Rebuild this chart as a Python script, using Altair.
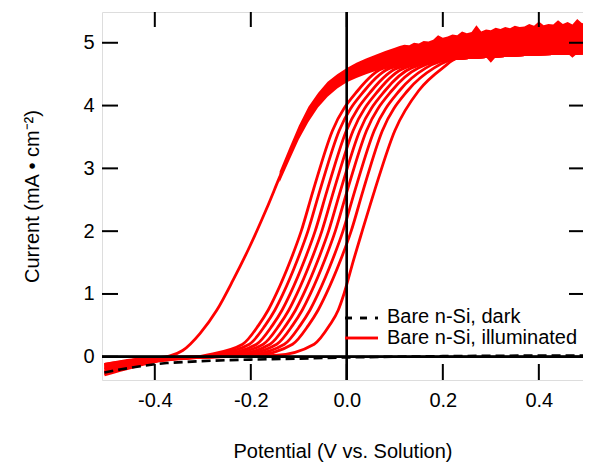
import altair as alt
import pandas as pd

# ---------------- data ----------------
x_ticks = [-0.4, -0.2, 0.0, 0.2, 0.4]
y_ticks = [0, 1, 2, 3, 4, 5]

legend_labels = ["Bare n-Si, dark", "Bare n-Si, illuminated"]

# dark curve (dashed black)
dark_v = [-0.505, -0.47, -0.43, -0.40, -0.375, -0.34, -0.306, -0.25, -0.20,
          -0.167, -0.10, -0.05, 0.0, 0.10, 0.20, 0.30, 0.40, 0.505]
dark_i = [-0.25, -0.20, -0.15, -0.12, -0.10, -0.085, -0.07, -0.055, -0.045,
          -0.04, -0.03, -0.02, -0.01, 0.0, 0.01, 0.015, 0.02, 0.02]

# leftmost illuminated curve (lower part)
curveA_v = [-0.505, -0.45, -0.40, -0.37, -0.342, -0.306, -0.271, -0.237,
            -0.202, -0.167, -0.14, -0.12, -0.10]
curveA_i = [-0.12, -0.06, -0.02, 0.01, 0.10, 0.37, 0.74, 1.22,
            1.76, 2.36, 2.86, 3.22, 3.55]

# cluster of illuminated curves: potential at which each reaches these currents
cluster_levels = [0.02, 0.2, 0.5, 0.74, 1.0, 1.54, 2.0, 2.65, 3.6, 4.24, 4.6]
c1 = [-0.297, -0.217, -0.184, -0.164, -0.147, -0.117, -0.095, -0.070, -0.030, 0.023, 0.078]
c2 = [-0.283, -0.203, -0.170, -0.150, -0.133, -0.103, -0.081, -0.056, -0.016, 0.037, 0.092]
c3 = [-0.268, -0.188, -0.155, -0.135, -0.118, -0.088, -0.066, -0.041, -0.001, 0.052, 0.107]
c4 = [-0.254, -0.174, -0.141, -0.121, -0.104, -0.074, -0.052, -0.027, 0.013, 0.066, 0.121]
c5 = [-0.240, -0.160, -0.127, -0.107, -0.090, -0.060, -0.038, -0.013, 0.027, 0.080, 0.135]
c6 = [-0.226, -0.146, -0.113, -0.093, -0.076, -0.046, -0.024, 0.001, 0.041, 0.094, 0.149]
c7 = [-0.210, -0.130, -0.097, -0.077, -0.060, -0.030, -0.008, 0.017, 0.057, 0.110, 0.165]
c8 = [-0.193, -0.113, -0.080, -0.060, -0.043, -0.013, 0.009, 0.034, 0.074, 0.127, 0.182]
c9 = [-0.150, -0.068, -0.036, -0.018, -0.006, 0.014, 0.032, 0.058, 0.100, 0.150, 0.200]
cluster = [c1, c2, c3, c4, c5, c6, c7, c8, c9]
cluster_i_start = [-0.29, -0.27, -0.25, -0.23, -0.20, -0.18, -0.16, -0.14, -0.12]   # at -0.505 V
cluster_i_m04 = [-0.08, -0.07, -0.06, -0.05, -0.04, -0.035, -0.03, -0.02, -0.015]  # at -0.40 V
tail_v = [0.23, 0.505]
tail_i = [4.75, 4.84]

# noisy saturated band (forward/reverse sweeps overlapping)
band_v = [-0.14, -0.12, -0.10, -0.08, -0.06, -0.04, -0.02, 0.0, 0.02, 0.04, 0.06, 0.08, 0.10,
          0.11, 0.12, 0.13, 0.14, 0.15, 0.16, 0.17, 0.18, 0.19, 0.20,
          0.21, 0.22, 0.23, 0.24, 0.25, 0.26, 0.27, 0.28, 0.29, 0.30,
          0.31, 0.32, 0.33, 0.34, 0.35, 0.36, 0.37, 0.38, 0.39, 0.40,
          0.41, 0.42, 0.43, 0.44, 0.45, 0.46, 0.47, 0.48, 0.49, 0.50, 0.505]
band_lo = [2.78, 3.12, 3.46, 3.74, 3.97, 4.14, 4.27, 4.37, 4.44, 4.50, 4.55, 4.59, 4.62,
           4.64, 4.65, 4.66, 4.67, 4.68, 4.69, 4.70, 4.70, 4.71, 4.72,
           4.72, 4.73, 4.74, 4.74, 4.75, 4.75, 4.76, 4.76, 4.77, 4.68,
           4.77, 4.78, 4.78, 4.79, 4.79, 4.79, 4.80, 4.80, 4.80, 4.81,
           4.81, 4.81, 4.82, 4.82, 4.82, 4.83, 4.76, 4.83, 4.84, 4.84, 4.85]
band_hi = [2.95, 3.32, 3.68, 3.98, 4.20, 4.38, 4.50, 4.60, 4.68, 4.75, 4.81, 4.87, 4.92,
           4.95, 4.97, 4.96, 5.00, 4.99, 5.03, 5.02, 5.05, 5.12, 5.08,
           5.10, 5.13, 5.12, 5.18, 5.15, 5.17, 5.28, 5.18, 5.21, 5.20,
           5.24, 5.22, 5.25, 5.23, 5.27, 5.25, 5.26, 5.30, 5.27, 5.34,
           5.28, 5.30, 5.29, 5.36, 5.30, 5.33, 5.29, 5.38, 5.31, 5.33, 5.30]

# ---------------- tables ----------------
rows = []
for k, (v, i) in enumerate(zip(curveA_v, curveA_i)):
    rows.append({"curve": "A", "order": k, "v": v, "i": i})
for n, cv in enumerate(cluster):
    pts = [(-0.505, cluster_i_start[n]), (-0.40, cluster_i_m04[n])]
    pts += list(zip(cv, cluster_levels))
    pts += list(zip(tail_v, tail_i))
    for k, (v, i) in enumerate(pts):
        rows.append({"curve": f"c{n+1}", "order": k, "v": v, "i": i})
df_red = pd.DataFrame(rows)
df_dark = pd.DataFrame({"v": dark_v, "i": dark_i, "order": range(len(dark_v))})
df_band = pd.DataFrame({"v": band_v, "lo": band_lo, "hi": band_hi})
df_xt = pd.DataFrame({"t": x_ticks})
df_yt = pd.DataFrame({"t": y_ticks})

W, H = 481, 368
FONT = "Liberation Sans"
xscale = alt.Scale(domain=[-0.51, 0.492], nice=False, zero=False)
yscale = alt.Scale(domain=[-0.37, 5.49], nice=False, zero=False)

xaxis = alt.Axis(values=x_ticks, ticks=False, domain=False, grid=False,
                 labelFontSize=20, labelFont=FONT, labelColor="black", labelPadding=10,
                 labelExpr="replace(format(datum.value, '.1f'), '\u2212', '-')",
                 title="Potential (V vs. Solution)", titleFontSize=20, titleFont=FONT,
                 titleFontWeight="normal", titleColor="black", titlePadding=31)
yaxis = alt.Axis(values=y_ticks, ticks=False, domain=False, grid=False, format="d",
                 labelFontSize=20, labelFont=FONT, labelColor="black", labelPadding=8,
                 title="Current (mA \u2022 cm\u207b\u00b2)", titleFontSize=20, titleFont=FONT,
                 titleFontWeight="normal", titleColor="black", titlePadding=40)

base_x = alt.X("v:Q", scale=xscale, axis=xaxis)
base_y = alt.Y("i:Q", scale=yscale, axis=yaxis)

band = alt.Chart(df_band).mark_area(color="#ff0000", clip=True, interpolate="linear").encode(
    x=alt.X("v:Q", scale=xscale, axis=xaxis),
    y=alt.Y("lo:Q", scale=yscale, axis=yaxis),
    y2="hi:Q",
)

red = alt.Chart(df_red).mark_line(color="#ff0000", strokeWidth=2.8, clip=True,
                                  interpolate="monotone").encode(
    x=base_x, y=base_y, detail="curve:N", order="order:Q"
)

dark = alt.Chart(df_dark).mark_line(color="black", strokeWidth=2.6, strokeDash=[9, 5],
                                    clip=True).encode(x=base_x, y=base_y, order="order:Q")

zero_h = alt.Chart(df_yt).mark_rule(color="black", strokeWidth=2).encode(
    y=alt.datum(0, scale=yscale), x=alt.value(0), x2=alt.value(W))
zero_v = alt.Chart(df_xt).mark_rule(color="black", strokeWidth=2).encode(
    x=alt.datum(0, scale=xscale), y=alt.value(0), y2=alt.value(H))

tick_b = alt.Chart(df_xt).mark_rule(color="black", strokeWidth=2).encode(
    x=alt.X("t:Q", scale=xscale), y=alt.value(H), y2=alt.value(H - 16))
tick_t = alt.Chart(df_xt).mark_rule(color="black", strokeWidth=2).encode(
    x=alt.X("t:Q", scale=xscale), y=alt.value(0), y2=alt.value(15))
tick_l = alt.Chart(df_yt).mark_rule(color="black", strokeWidth=2).encode(
    y=alt.Y("t:Q", scale=yscale), x=alt.value(0), x2=alt.value(16))
tick_r = alt.Chart(df_yt).mark_rule(color="black", strokeWidth=2).encode(
    y=alt.Y("t:Q", scale=yscale), x=alt.value(W - 14), x2=alt.value(W))

leg_df = pd.DataFrame({"label": legend_labels})
leg_dark = alt.Chart(leg_df).mark_rule(color="black", strokeWidth=2.6, strokeDash=[7, 8]).encode(
    x=alt.value(243), x2=alt.value(276), y=alt.value(306))
leg_red = alt.Chart(leg_df).mark_rule(color="#ff0000", strokeWidth=2.6).encode(
    x=alt.value(243), x2=alt.value(276), y=alt.value(326))
leg_t1 = alt.Chart(leg_df).transform_filter(alt.datum.label == legend_labels[0]).mark_text(
    align="left", baseline="alphabetic", fontSize=20, font=FONT, color="black").encode(
    x=alt.value(285), y=alt.value(311), text="label:N")
leg_t2 = alt.Chart(leg_df).transform_filter(alt.datum.label == legend_labels[1]).mark_text(
    align="left", baseline="alphabetic", fontSize=20, font=FONT, color="black").encode(
    x=alt.value(285), y=alt.value(332), text="label:N")

chart = alt.layer(
    band, red, dark, zero_h, zero_v, tick_b, tick_t, tick_l, tick_r,
    leg_dark, leg_red, leg_t1, leg_t2
).properties(
    width=W, height=H,
    autosize=alt.AutoSizeParams(type="none"),
    padding={"left": 94, "top": 4, "right": 0, "bottom": 82},
).configure_view(
    stroke="black", strokeWidth=2
).configure(background="white")

chart.save("out.html", embed_options={"renderer": "svg", "actions": False})
